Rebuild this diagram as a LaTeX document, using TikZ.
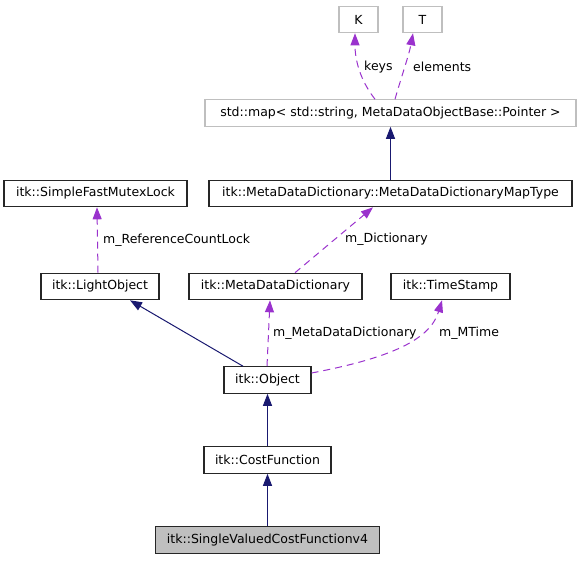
\documentclass[tikz,border=0pt]{standalone}
\usepackage{fontspec}
\setmainfont{DejaVu Sans}
\usetikzlibrary{arrows.meta}
\definecolor{navyedge}{RGB}{25,25,112}
\definecolor{orchidedge}{RGB}{154,50,205}
\definecolor{graybox}{RGB}{191,191,191}
\definecolor{fillsel}{RGB}{191,191,191}
\tikzset{
  box/.style={draw=black!85, line width=1.1pt, inner sep=0pt, minimum height=26.5pt, font=\fontsize{12.5}{15}\selectfont, text=black},
  graybx/.style={box, draw=graybox},
  selbox/.style={box, fill=fillsel},
  inherit/.style={draw=navyedge, line width=1pt, -{Triangle[length=12pt,width=9pt,fill=navyedge]}},
  usage/.style={draw=orchidedge, line width=1pt, dash pattern=on 7pt off 5pt, -{Triangle[length=12pt,width=9pt,fill=orchidedge]}},
  lbl/.style={anchor=west, inner sep=0pt, font=\fontsize{12.5}{15}\selectfont, text=black}
}
\begin{document}
\begin{tikzpicture}[x=1pt,y=-1pt]
\useasboundingbox (0,0) rectangle (581,560);
% nodes
\node[graybx, minimum width=39pt] (K) at (358.5,19.5) {K};
\node[graybx, minimum width=39pt] (T) at (422.5,19.5) {T};
\node[graybx, minimum width=371pt] (map) at (390.5,113) {std::map< std::string, MetaDataObjectBase::Pointer >};
\node[box, minimum width=363pt] (mt) at (390.5,193.5) {itk::MetaDataDictionary::MetaDataDictionaryMapType};
\node[box, minimum width=183pt] (sfml) at (95.5,193.5) {itk::SimpleFastMutexLock};
\node[box, minimum width=118pt] (lo) at (100,286.5) {itk::LightObject};
\node[box, minimum width=173pt] (mdd) at (275.5,286.5) {itk::MetaDataDictionary};
\node[box, minimum width=119pt] (ts) at (450.5,286.5) {itk::TimeStamp};
\node[box, minimum width=87pt] (obj) at (267.5,380) {itk::Object};
\node[box, minimum width=127pt] (cf) at (267.5,460) {itk::CostFunction};
\node[selbox, minimum width=224pt] (sv) at (267.5,540) {itk::SingleValuedCostFunctionv4};
% inheritance edges
\draw[inherit] (mt.north) -- (map.south);
\draw[inherit] ([xshift=-24.5pt]obj.north) -- ([xshift=30pt]lo.south);
\draw[inherit] (cf.north) -- (obj.south);
\draw[inherit] (sv.north) -- (cf.south);
% usage edges
\draw[usage] ([xshift=-15.5pt]map.north) .. controls (360,80) and (355,60) .. ([xshift=-3.5pt]K.south);
\draw[usage] ([xshift=4.5pt]map.north) .. controls (401,78) and (409,55) .. ([xshift=-9.5pt]T.south);
\draw[usage] ([xshift=19.5pt]mdd.north) -- ([xshift=-17.5pt]mt.south);
\draw[usage] ([xshift=-2pt]lo.north) -- ([xshift=1.5pt]sfml.south);
\draw[usage] ([xshift=-0.5pt]obj.north) -- ([xshift=-5.5pt]mdd.south);
\draw[usage] ([yshift=7pt]obj.east) .. controls (390,358) and (430,340) .. ([xshift=-8.5pt]ts.south);
% labels
\node[lbl] (lkeys) at (364,67) {keys};
\node[lbl] (lelem) at (413,67) {elements};
\node[lbl] (lref) at (103,240) {m\_ReferenceCountLock};
\node[lbl] (ldict) at (345,239) {m\_Dictionary};
\node[lbl] (lmdd) at (273,333) {m\_MetaDataDictionary};
\node[lbl] (lmt) at (439,333) {m\_MTime};
\end{tikzpicture}
\end{document}
